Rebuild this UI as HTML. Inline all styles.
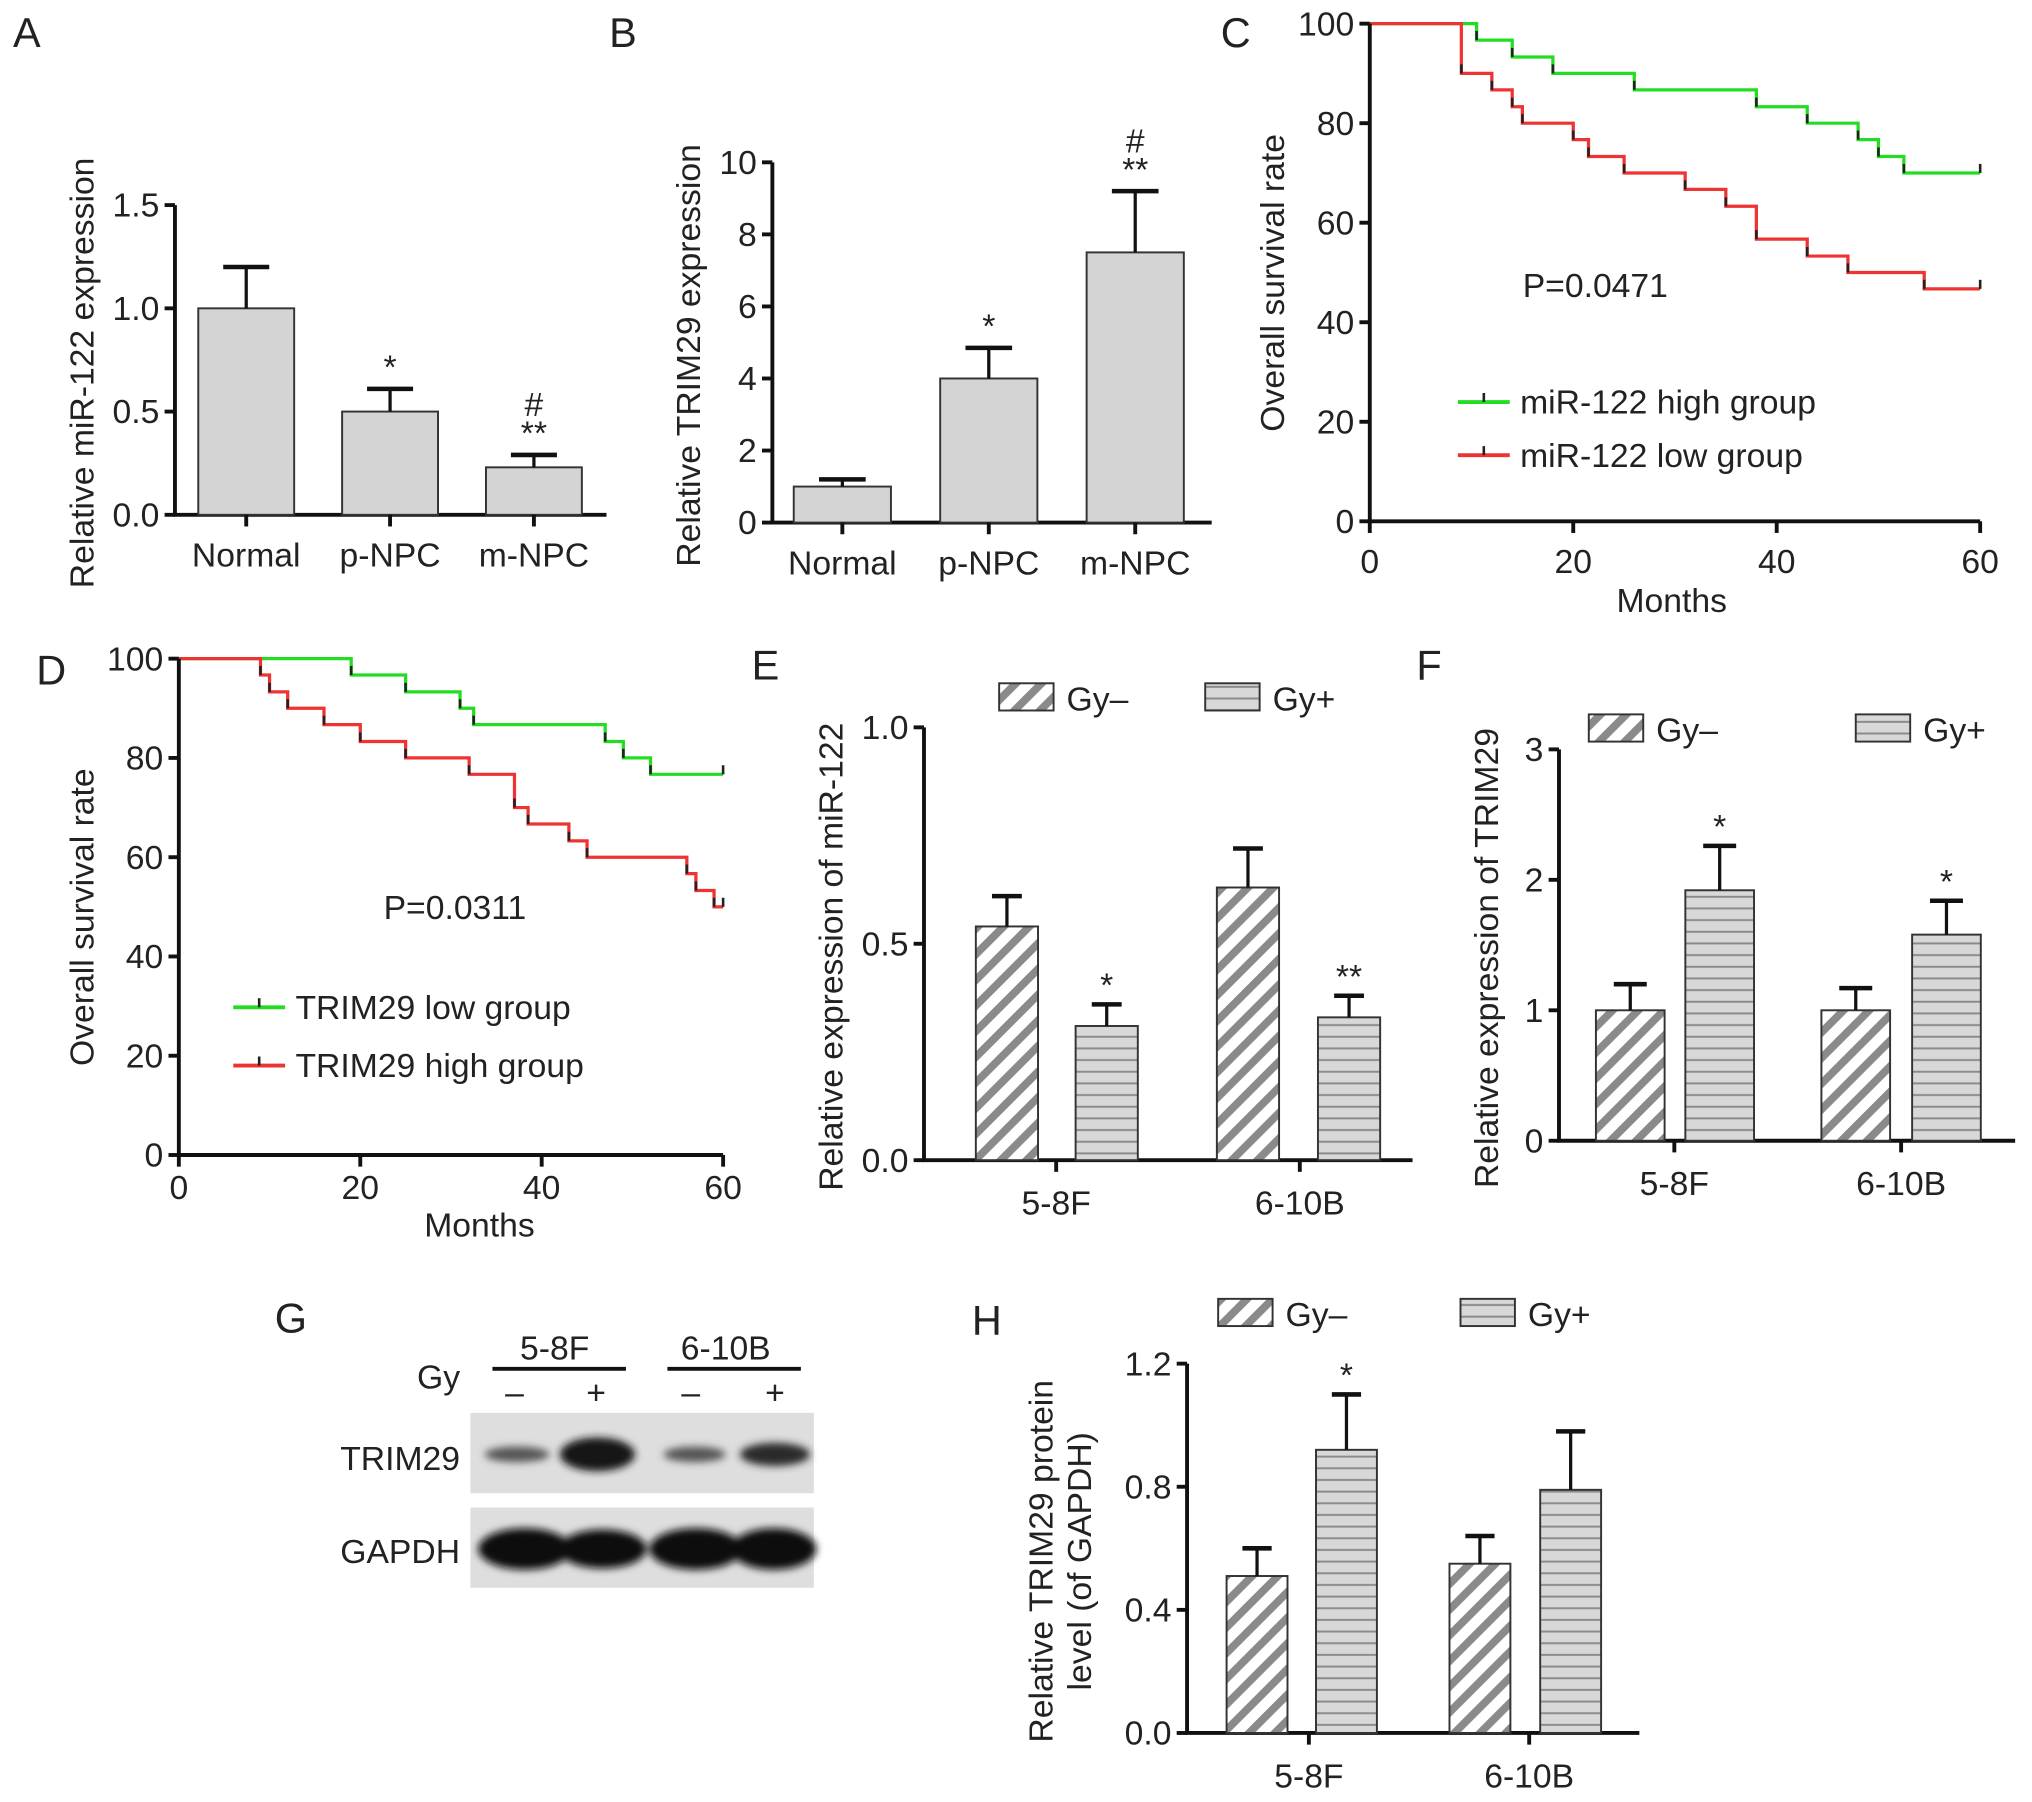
<!DOCTYPE html>
<html><head><meta charset="utf-8"><style>
html,body{margin:0;padding:0;background:#fff;}
svg{display:block;}
text{font-family:"Liberation Sans",sans-serif;fill:#222;}
.t{font-size:26px;}
.ti{font-family:"Liberation Sans",sans-serif;font-size:26px;}
.pl{font-family:"Liberation Sans",sans-serif;font-size:32px;}
</style></head><body>
<svg id="fig" width="2032" height="1802" viewBox="0 0 1568 1390" xmlns="http://www.w3.org/2000/svg">
<defs>
<pattern id="hatch" patternUnits="userSpaceOnUse" width="14" height="14" patternTransform="rotate(45)">
<rect width="14" height="14" fill="#fff"/><rect width="6" height="14" fill="#8a8a8a"/></pattern>
<pattern id="hstripe" patternUnits="userSpaceOnUse" width="8" height="9">
<rect width="8" height="9" fill="#d8d8d8"/><rect y="7" width="8" height="1.5" fill="#8a8a8a"/></pattern>
<filter id="blur"><feGaussianBlur stdDeviation="3"/></filter>
</defs>
<g id="root"></g>
</svg>
<script>
// ---- Panel A data
const catsA = ['Normal','p-NPC','m-NPC'];
const valsA = [1.0, 0.5, 0.23];
const errA = [1.2, 0.61, 0.29];
const ticksA = [0.0, 0.5, 1.0, 1.5];
const sigA = ['', '*', '**'];
const sig2A = ['', '', '#'];
// ---- Panel B data
const catsB = ['Normal','p-NPC','m-NPC'];
const valsB = [1.0, 4.0, 7.5];
const errB = [1.2, 4.85, 9.2];
const ticksB = [0, 2, 4, 6, 8, 10];
const sigB = ['', '*', '**'];
const sig2B = ['', '', '#'];
// ---- Panel C data (KM)
const cGreenT = [0, 10.5, 14, 18, 26, 38, 43, 48, 50, 52.5, 60];
const cGreenS = [100, 96.7, 93.3, 90, 86.7, 83.3, 80, 76.7, 73.3, 70, 70];
const cRedT = [0, 9, 12, 14, 15, 20, 21.5, 25, 31, 35, 38, 43, 47, 54.5, 60];
const cRedS = [100, 90, 86.7, 83.3, 80, 76.7, 73.3, 70, 66.7, 63.3, 56.7, 53.3, 50, 46.7, 46.7];
const kmTicksY = [0, 20, 40, 60, 80, 100];
const kmTicksX = [0, 20, 40, 60];
// ---- Panel D data
const dGreenT = [0, 19, 25, 31, 32.5, 47, 49, 52, 60];
const dGreenS = [100, 96.7, 93.3, 90, 86.7, 83.3, 80, 76.7, 76.7];
const dRedT = [0, 9, 10, 12, 16, 20, 25, 32, 37, 38.5, 43, 45, 56, 57, 59, 60];
const dRedS = [100, 96.7, 93.3, 90, 86.7, 83.3, 80, 76.7, 70, 66.7, 63.3, 60, 56.7, 53.3, 50, 50];
// ---- Panels E/F/H data (grouped)
const grpCats = ['5-8F','6-10B'];
const eMinus = [0.54, 0.63], eMinusErr = [0.61, 0.72];
const ePlus = [0.31, 0.33], ePlusErr = [0.36, 0.38];
const eSig = ['*','**'];
const ticksE = [0.0, 0.5, 1.0];
const fMinus = [1.0, 1.0], fMinusErr = [1.2, 1.17];
const fPlus = [1.92, 1.58], fPlusErr = [2.26, 1.84];
const fSig = ['*','*'];
const ticksF = [0, 1, 2, 3];
const hMinus = [0.51, 0.55], hMinusErr = [0.6, 0.64];
const hPlus = [0.92, 0.79], hPlusErr = [1.1, 0.98];
const hSig = ['*',''];
const ticksH = [0.0, 0.4, 0.8, 1.2];

const NS = 'http://www.w3.org/2000/svg';
const root = document.getElementById('root');
function mk(tag, attrs, parent, txt){
  const e = document.createElementNS(NS, tag);
  for (const k in attrs) e.setAttribute(k, attrs[k]);
  if (txt !== undefined) e.textContent = txt;
  (parent || root).appendChild(e);
  return e;
}
function grp(name){
  const g = mk('g', {});
  
  
  return g;
}
function label(g, x, y, s, cls, anchor, name, rot){
  const t = mk('text', {x:x, y:y, class:cls, 'text-anchor':anchor||'middle'}, g, s);
  if (rot) t.setAttribute('transform', 'rotate(-90 '+x+' '+y+')');
  
  
  return t;
}
function yAxis(g, x0, y0, y1, x1, vmax, ticks, fmt){
  const sy = v => y0 - (y0 - y1) * v / vmax;
  const ax = mk('line', {x1:x0, y1:y0, x2:x0, y2:y1, stroke:'#111', 'stroke-width':3}, g);
   
  const bx = mk('line', {x1:x0-1.5, y1:y0, x2:x1, y2:y0, stroke:'#111', 'stroke-width':3}, g);
   
  ticks.forEach(v => {
    mk('line', {x1:x0-8, y1:sy(v), x2:x0, y2:sy(v), stroke:'#111', 'stroke-width':3}, g);
    label(g, x0-12, sy(v)+9, fmt(v), 't', 'end', 'y-tick-label');
  });
  return sy;
}
function bar(g, cx, w, sy, v, e, fill, name){
  const r = mk('rect', {x:cx-w/2, y:sy(v), width:w, height:sy(0)-sy(v), fill:fill, stroke:'#333', 'stroke-width':1.5}, g);
   
  mk('line', {x1:cx, y1:sy(v), x2:cx, y2:sy(e), stroke:'#111', 'stroke-width':2.5}, g);
  mk('line', {x1:cx-w*0.24, y1:sy(e), x2:cx+w*0.24, y2:sy(e), stroke:'#111', 'stroke-width':3.5}, g);
}
function simplePanel(name, x0, y0, y1, x1, vmax, ticks, fmt, cats, vals, errs, sig, sig2, centers, w, title, titleX){
  const g = grp(name);
  const sy = yAxis(g, x0, y0, y1, x1, vmax, ticks, fmt);
  cats.forEach((c, i) => {
    bar(g, centers[i], w, sy, vals[i], errs[i], '#d4d4d4', 'bar-' + c.toLowerCase());
    mk('line', {x1:centers[i], y1:y0, x2:centers[i], y2:y0+9, stroke:'#111', 'stroke-width':3}, g);
    label(g, centers[i], y0+40, c, 't', 'middle', 'x-tick-label');
    if (sig[i]) label(g, centers[i], sy(errs[i])-8, sig[i], 'ti', 'middle', 'significance-mark');
    if (sig2[i]) label(g, centers[i], sy(errs[i])-30, sig2[i], 't', 'middle', 'significance-hash');
  });
  label(g, titleX, (y0+y1)/2 + 10, title, 'ti', 'middle', 'y-axis-title', true);
}
simplePanel('panel-a', 135, 397, 158, 468, 1.5, ticksA, v=>v.toFixed(1), catsA, valsA, errA, sigA, sig2A, [190,301,412], 74, 'Relative miR-122 expression', 72);
simplePanel('panel-b', 596, 403, 125, 935, 10, ticksB, v=>String(v), catsB, valsB, errB, sigB, sig2B, [650,763,876], 75, 'Relative TRIM29 expression', 540);

function kmPanel(name, x0, y0, x1, y1, series, legend, pText, pX, pY, monthsX, monthsY, tickOff){
  const g = grp(name);
  const sx = t => x0 + (x1 - x0) * t / 60;
  const sy = v => y0 - (y0 - y1) * v / 100;
  series.forEach(s => {
    let d = 'M' + sx(s.t[0]) + ' ' + sy(s.s[0]);
    for (let i = 1; i < s.t.length; i++) d += ' H' + sx(s.t[i]) + ' V' + sy(s.s[i]);
    const p = mk('path', {d:d, fill:'none', stroke:s.c, 'stroke-width':2.5}, g);
     
    for (let i = 1; i < s.t.length; i++)
      mk('line', {x1:sx(s.t[i]), y1:sy(s.s[i])-7, x2:sx(s.t[i]), y2:sy(s.s[i]), stroke:'#222', 'stroke-width':2}, g);
  });
  const ax = mk('line', {x1:x0, y1:y0, x2:x0, y2:y1, stroke:'#111', 'stroke-width':3}, g);
   
  const bx = mk('line', {x1:x0-1.5, y1:y0, x2:x1, y2:y0, stroke:'#111', 'stroke-width':3}, g);
   
  kmTicksY.forEach(v => {
    mk('line', {x1:x0-8, y1:sy(v), x2:x0, y2:sy(v), stroke:'#111', 'stroke-width':3}, g);
    label(g, x0-12, sy(v)+9, String(v), 't', 'end', 'y-tick-label');
  });
  kmTicksX.forEach(v => {
    mk('line', {x1:sx(v), y1:y0, x2:sx(v), y2:y0+9, stroke:'#111', 'stroke-width':3}, g);
    label(g, sx(v), y0+tickOff, String(v), 't', 'middle', 'x-tick-label');
  });
  label(g, monthsX, monthsY, 'Months', 't', 'middle', 'x-axis-title');
  label(g, x0-66, (y0+y1)/2 + 8, 'Overall survival rate', 'ti', 'middle', 'y-axis-title', true);
  label(g, pX, pY, pText, 't', 'start', 'p-value');
  legend.forEach(l => {
    const lg = mk('g', {}, g);
     
    mk('line', {x1:l.x, y1:l.y, x2:l.x+40, y2:l.y, stroke:l.c, 'stroke-width':3}, lg);
    mk('line', {x1:l.x+20, y1:l.y-7, x2:l.x+20, y2:l.y, stroke:'#222', 'stroke-width':2}, lg);
    label(lg, l.x+48, l.y+9, l.text, 't', 'start', 'legend-label');
  });
}
kmPanel('panel-c', 1057, 402, 1528, 18,
  [{t:cGreenT, s:cGreenS, c:'#22dd22', name:'mir122-high-curve'}, {t:cRedT, s:cRedS, c:'#ee3333', name:'mir122-low-curve'}],
  [{x:1125, y:310, c:'#22dd22', text:'miR-122 high group'}, {x:1125, y:351, c:'#ee3333', text:'miR-122 low group'}],
  'P=0.0471', 1175, 229, 1290, 472, 40);
kmPanel('panel-d', 138, 891, 558, 508,
  [{t:dGreenT, s:dGreenS, c:'#22dd22', name:'trim29-low-curve'}, {t:dRedT, s:dRedS, c:'#ee3333', name:'trim29-high-curve'}],
  [{x:180, y:777, c:'#22dd22', text:'TRIM29 low group'}, {x:180, y:822, c:'#ee3333', text:'TRIM29 high group'}],
  'P=0.0311', 296, 709, 370, 954, 34);

function grpPanel(name, x0, y0, y1, x1, vmax, ticks, fmt, minus, minusE, plus, plusE, sig, gm, gp, w, labX, leg, title, titleX, title2){
  const g = grp(name);
  const sy = yAxis(g, x0, y0, y1, x1, vmax, ticks, fmt);
  grpCats.forEach((c, i) => {
    bar(g, gm[i], w, sy, minus[i], minusE[i], 'url(#hatch)', 'bar-' + c + '-gy-minus');
    bar(g, gp[i], w, sy, plus[i], plusE[i], 'url(#hstripe)', 'bar-' + c + '-gy-plus');
    if (sig[i]) label(g, gp[i], sy(plusE[i])-6, sig[i], 'ti', 'middle', 'significance-mark');
    mk('line', {x1:labX[i], y1:y0, x2:labX[i], y2:y0+9, stroke:'#111', 'stroke-width':3}, g);
    label(g, labX[i], y0+42, c, 't', 'middle', 'x-tick-label');
  });
  [['url(#hatch)', 'Gy–', leg[0]], ['url(#hstripe)', 'Gy+', leg[1]]].forEach(l => {
    const lg = mk('g', {}, g);
     
    mk('rect', {x:l[2], y:leg[2]-11, width:42, height:21, fill:l[0], stroke:'#333', 'stroke-width':1.5}, lg);
    label(lg, l[2]+52, leg[2]+10, l[1], 't', 'start', 'legend-label');
  });
  label(g, titleX, (y0+y1)/2 + 10, title, 'ti', 'middle', 'y-axis-title', true);
  if (title2) label(g, titleX+30, (y0+y1)/2 + 10, title2, 'ti', 'middle', 'y-axis-title-line2', true);
}
grpPanel('panel-e', 713, 895, 561, 1090, 1.0, ticksE, v=>v.toFixed(1), eMinus, eMinusErr, ePlus, ePlusErr, eSig,
  [777, 963], [854, 1041], 48, [815, 1003], [771, 930, 538], 'Relative expression of miR-122', 650);
grpPanel('panel-f', 1203, 880, 578, 1555, 3, ticksF, v=>String(v), fMinus, fMinusErr, fPlus, fPlusErr, fSig,
  [1258, 1432], [1327, 1502], 53, [1292, 1467], [1226, 1432, 562], 'Relative expression of  TRIM29', 1156);
grpPanel('panel-h', 916, 1337, 1052, 1265, 1.2, ticksH, v=>v.toFixed(1), hMinus, hMinusErr, hPlus, hPlusErr, hSig,
  [970, 1142], [1039, 1212], 47, [1010, 1180], [940, 1127, 1013], 'Relative TRIM29 protein', 812, 'level (of GAPDH)');

(function(){
  const g = grp('panel-g-western-blot');
  label(g, 428, 1049, '5-8F', 't', 'middle', 'blot-group-label');
  label(g, 560, 1049, '6-10B', 't', 'middle', 'blot-group-label');
  mk('line', {x1:380, y1:1056, x2:483, y2:1056, stroke:'#111', 'stroke-width':3}, g);
  mk('line', {x1:515, y1:1056, x2:618, y2:1056, stroke:'#111', 'stroke-width':3}, g);
  label(g, 355, 1071, 'Gy', 't', 'end', 'gy-label');
  [[397,'–'],[460,'+'],[533,'–'],[598,'+']].forEach(p => label(g, p[0], 1083, p[1], 't', 'middle', 'lane-sign'));
  const b1 = mk('rect', {x:363, y:1090, width:265, height:62, fill:'#dedede'}, g);
   
  const b2 = mk('rect', {x:363, y:1163, width:265, height:62, fill:'#dedede'}, g);
   
  const bands = mk('g', {filter:'url(#blur)'}, g);
  [[399,50,6,'#555'],[461,58,13,'#151515'],[536,48,6,'#555'],[598,54,9,'#2a2a2a']].forEach(b =>
    mk('ellipse', {cx:b[0], cy:1122, rx:b[1]/2, ry:b[2], fill:b[3]}, bands));
  [[405,72,16],[465,68,15],[537,72,16],[597,66,16]].forEach(b =>
    mk('ellipse', {cx:b[0], cy:1195, rx:b[1]/2, ry:b[2], fill:'#0c0c0c'}, bands));
  label(g, 355, 1134, 'TRIM29', 't', 'end', 'trim29-label');
  label(g, 355, 1206, 'GAPDH', 't', 'end', 'gapdh-label');
})();

[['A',10,36],['B',470,36],['C',942,36],['D',28,528],['E',580,524],['F',1093,524],['G',212,1028],['H',750,1030]].forEach(p => {
  const t = mk('text', {x:p[1], y:p[2], class:'pl'}, root, p[0]);
  
  
});
</script>
</body></html>
